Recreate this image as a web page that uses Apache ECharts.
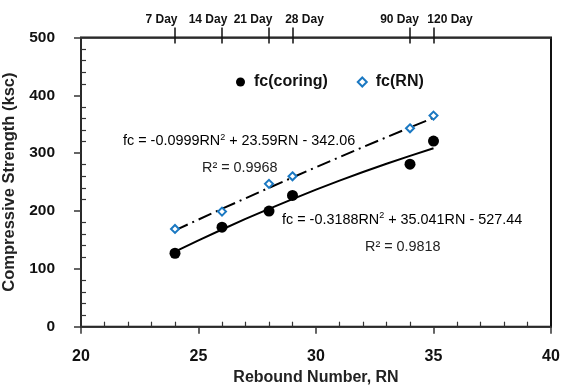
<!DOCTYPE html>
<html><head><meta charset="utf-8">
<script src="https://cdn.jsdelivr.net/npm/echarts@6/dist/echarts.min.js"></script>
<style>html,body{margin:0;padding:0;background:#fff}#c{width:562px;height:387px}</style>
</head><body><div id="c"></div>
<script>
const rebound = [24, 26, 28, 29, 34, 35];
const fcCoring = [127, 172, 200, 227, 281, 321];
const fcRN = [169, 199, 247, 260, 343, 365];
const ageLabels = ['7 Day', '14 Day', '21 Day', '28 Day', '90 Day', '120 Day'];
const trendX = [24, 25, 26, 27, 28, 29, 30, 31, 32, 33, 34, 35];
const trendCoring = [129.9, 149.3, 168.1, 186.3, 203.8, 220.6, 236.9, 252.5, 267.4, 281.7, 295.4, 308.5];
const trendRN = [166.6, 185.3, 203.8, 222.0, 240.1, 258.0, 275.7, 293.2, 310.5, 327.6, 344.5, 361.2];
const yTicks = [0, 100, 200, 300, 400, 500];
const xTicks = [20, 25, 30, 35, 40];

const font = 'Arial, "Liberation Sans", sans-serif';
const pair = (xs, ys) => xs.map((x, i) => [x, ys[i]]);
// horizontal offsets of the age labels relative to their ticks (label styling)
const agePad = [[0, 27, 0, 0], [0, 28, 0, 0], [0, 32, 0, 0], [0, 0, 0, 24], [0, 21, 0, 0], [0, 0, 0, 33]];
const ageRich = {};
agePad.forEach((p, i) => { ageRich['a' + i] = { padding: p, fontFamily: font, fontWeight: 'bold', fontSize: 12, color: '#111' }; });

const chart = echarts.init(document.getElementById('c'));
const axisCol = '#333';
const eqRich = {
  n: { fontFamily: font, fontSize: 14.4, color: '#222', lineHeight: 17 },
  s: { fontFamily: font, fontSize: 9, color: '#222', verticalAlign: 'top', lineHeight: 17, padding: [0, 0, 7, 0] }
};
chart.setOption({
  animation: false,
  backgroundColor: '#fff',
  grid: { left: 81, right: 11, top: 37.5, bottom: 60.3, outerBoundsMode: 'none', containLabel: false,
    show: true, borderColor: '#111', borderWidth: 2, backgroundColor: 'transparent' },
  legend: {
    top: 69, left: 231, itemGap: 29, itemWidth: 9, itemHeight: 9,
    textStyle: { fontFamily: font, fontWeight: 'bold', fontSize: 16, color: '#111', padding: [0, 0, 0, 4] },
    data: [{ name: 'fc(coring)', icon: 'circle' }, { name: 'fc(RN)', icon: 'diamond' }]
  },
  xAxis: [
    { type: 'value', position: 'bottom', min: xTicks[0], max: xTicks[xTicks.length - 1], interval: 5,
      name: 'Rebound Number, RN', nameLocation: 'middle', nameGap: 42,
      nameTextStyle: { fontFamily: font, fontWeight: 'bold', fontSize: 16, color: '#222' },
      axisLine: { onZero: false, lineStyle: { color: axisCol, width: 1.5 } },
      axisTick: { show: true, length: 7, lineStyle: { color: axisCol, width: 1.5 } },
      axisLabel: { margin: 22, fontFamily: font, fontWeight: 'bold', fontSize: 16, color: '#111' },
      splitLine: { show: false } },
    { type: 'value', position: 'bottom', min: 20, max: 40, interval: 5,
      axisLine: { show: false, onZero: false }, axisTick: { show: false, inside: true },
      axisLabel: { show: false }, splitLine: { show: false },
      minorTick: { show: true, splitNumber: 5, length: 5, lineStyle: { color: axisCol, width: 1.2 } } },
    { type: 'value', position: 'top', min: 20, max: 40,
      axisLine: { onZero: false, lineStyle: { color: axisCol, width: 1.5 } },
      axisTick: { show: true, length: 10, customValues: rebound, lineStyle: { color: '#111', width: 1.5 } },
      axisLabel: { show: true, margin: 12, hideOverlap: false, customValues: rebound,
        formatter: v => { const i = rebound.indexOf(v); return i < 0 ? '' : '{a' + i + '|' + ageLabels[i] + '}'; },
        rich: ageRich, fontFamily: font, fontWeight: 'bold', fontSize: 12, color: '#111' },
      splitLine: { show: false } },
    { type: 'value', position: 'top', min: 20, max: 40,
      axisLine: { show: false, onZero: false },
      axisTick: { show: true, inside: true, length: 6, customValues: rebound, lineStyle: { color: '#111', width: 1.5 } },
      axisLabel: { show: false }, splitLine: { show: false } }
  ],
  yAxis: [
    { type: 'value', min: yTicks[0], max: yTicks[yTicks.length - 1], interval: 100,
      name: 'Compressive Strength (ksc)', nameLocation: 'middle', nameGap: 56,
      nameTextStyle: { fontFamily: font, fontWeight: 'bold', fontSize: 16.5, color: '#222' },
      axisLine: { show: true, onZero: false, lineStyle: { color: axisCol, width: 1.5 } },
      axisTick: { show: true, length: 7, lineStyle: { color: axisCol, width: 1.5 } },
      axisLabel: { margin: 26, fontFamily: font, fontWeight: 'bold', fontSize: 15.5, color: '#111' },
      splitLine: { show: false } },
    { type: 'value', min: 0, max: 500, interval: 100, position: 'left',
      axisLine: { show: false, onZero: false }, axisTick: { show: false, inside: true },
      axisLabel: { show: false }, splitLine: { show: false },
      minorTick: { show: true, splitNumber: 5, length: 5, lineStyle: { color: axisCol, width: 1.2 } } }
  ],
  series: [
    { name: 'trendCoring', type: 'line', data: pair(trendX, trendCoring), symbol: 'none', smooth: false,
      lineStyle: { color: '#000', width: 2 }, z: 2 },
    { name: 'trendRN', type: 'line', data: pair(trendX, trendRN), symbol: 'none', smooth: false,
      lineStyle: { color: '#000', width: 2, type: [14, 5, 2, 5] }, z: 2 },
    { name: 'fc(coring)', type: 'scatter', data: pair(rebound, fcCoring), symbol: 'circle', symbolSize: 11,
      itemStyle: { color: '#000', opacity: 1 }, z: 5 },
    { name: 'fc(RN)', type: 'scatter', data: pair(rebound, fcRN), symbol: 'diamond', symbolSize: 8,
      itemStyle: { color: '#fff', borderColor: '#1a78c2', borderWidth: 2, opacity: 1 }, z: 5 }
  ],
  graphic: [
    { type: 'text', left: 123, top: 133, style: { rich: eqRich, text: '{n|fc = -0.0999RN}{s|2}{n| + 23.59RN - 342.06}' } },
    { type: 'text', left: 202, top: 161, style: { text: 'R² = 0.9968', fontFamily: font, fontSize: 14.4, fill: '#222' } },
    { type: 'text', left: 282, top: 211.5, style: { rich: eqRich, text: '{n|fc = -0.3188RN}{s|2}{n| + 35.041RN - 527.44}' } },
    { type: 'text', left: 365, top: 240, style: { text: 'R² = 0.9818', fontFamily: font, fontSize: 14.4, fill: '#222' } }
  ]
});
</script></body></html>
